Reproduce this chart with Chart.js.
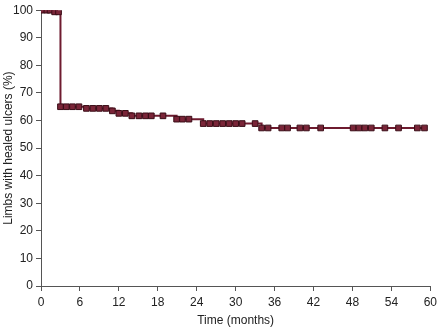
<!doctype html>
<html>
    <head>
        <script src="https://cdn.jsdelivr.net/npm/chart.js@4.4.1/dist/chart.umd.min.js"></script>
        <style>
          html, body { margin: 0; padding: 0; background: #fff; }
          #wrap { width: 441px; height: 328px; }
        </style>
        <title>Limbs with healed ulcers</title>
    </head>
    <body>
        <div id="wrap"><canvas id="chart" width="441" height="328"></canvas></div>

        <script type="application/javascript">

          const months = [0.1, 0.9, 1.4, 2.1, 2.7, 3.0, 3.9, 4.85, 5.85, 7.0, 8.0, 9.0, 10.0, 11.0, 12.0, 13.0,
                          14.0, 15.1, 16.1, 17.0, 18.8, 20.9, 21.8, 22.8, 25.0, 26.0, 27.0, 28.0, 29.0, 30.0, 31.0, 33.0,
                          34.0, 35.0, 37.1, 38.0, 39.9, 40.9, 43.1, 48.1, 49.0, 49.9, 50.9, 53.0, 55.1, 58.0, 59.1]
          const healed = [100, 100, 100, 99.4, 99.4, 65, 65, 65, 65, 64.4, 64.4, 64.4, 64.4, 63.5, 62.6, 62.6,
                          61.7, 61.7, 61.7, 61.7, 61.7, 60.5, 60.5, 60.5, 58.9, 58.9, 58.9, 58.9, 58.9, 58.9, 58.9, 58.9,
                          57.3, 57.3, 57.3, 57.3, 57.3, 57.3, 57.3, 57.3, 57.3, 57.3, 57.3, 57.3, 57.3, 57.3, 57.3]

          const xTicks = [0, 6, 12, 18, 24, 30, 36, 42, 48, 54, 60]
          const yTicks = [0, 10, 20, 30, 40, 50, 60, 70, 80, 90, 100]

          const font = { family: 'Liberation Sans, Arial, sans-serif', size: 12 }
          const axisColor = '#555'
          const textColor = '#222'

          const points = months.map((m, i) => ({ x: m, y: healed[i] }))

          const ctx = document.getElementById('chart').getContext('2d')
          new Chart(ctx, {
            type: 'line',
            data: {
              datasets: [{
                data: points,
                stepped: true,
                borderColor: '#6e1b2f',
                borderWidth: 2,
                pointStyle: 'rect',
                pointRadius: 4,
                pointBackgroundColor: '#7a2538',
                pointBorderColor: '#3a0d17',
                pointBorderWidth: 1,
                fill: false
              }]
            },
            options: {
              responsive: false,
              animation: false,
              layout: { padding: { top: 6, right: 8, left: 0, bottom: 0 } },
              plugins: { legend: { display: false }, tooltip: { enabled: false } },
              scales: {
                x: {
                  type: 'linear',
                  min: 0,
                  max: 60,
                  afterBuildTicks: axis => { axis.ticks = xTicks.map(v => ({ value: v })) },
                  afterFit: axis => { axis.height = 42 },
                  ticks: { font: font, color: textColor, padding: 4, maxRotation: 0 },
                  grid: { drawOnChartArea: false, drawTicks: true, tickLength: 5, color: axisColor },
                  border: { display: true, color: axisColor, width: 1 },
                  title: { display: true, text: 'Time (months)', font: font, color: textColor, padding: { top: 0, bottom: 0 } }
                },
                y: {
                  min: 0,
                  max: 100,
                  afterBuildTicks: axis => { axis.ticks = yTicks.map(v => ({ value: v })) },
                  afterFit: axis => { axis.width = 41 },
                  ticks: { font: font, color: textColor, padding: 3 },
                  grid: { drawOnChartArea: false, drawTicks: true, tickLength: 5, color: axisColor },
                  border: { display: true, color: axisColor, width: 1 },
                  title: { display: true, text: 'Limbs with healed ulcers (%)', font: font, color: textColor, padding: { top: 1, bottom: 0 } }
                }
              }
            }
          })

        </script>
    </body>
</html>
